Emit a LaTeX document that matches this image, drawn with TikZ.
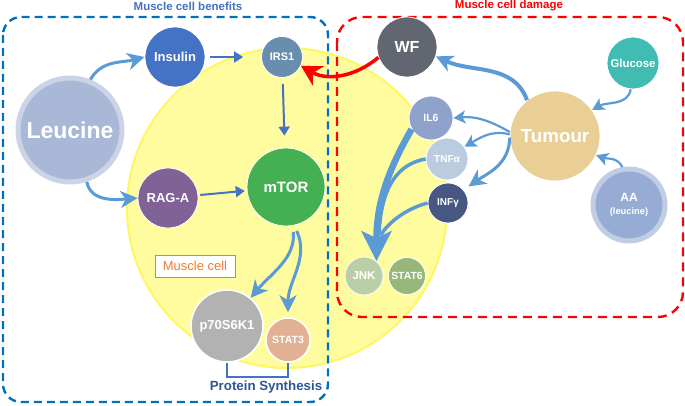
\documentclass[tikz,border=0pt]{standalone}
\usepackage{fontspec}
\setsansfont{Liberation Sans}
\usetikzlibrary{arrows.meta,positioning}

\definecolor{cArrow}{RGB}{91,155,213}
\definecolor{cDark}{RGB}{68,114,196}
\definecolor{cNavy}{RGB}{47,85,151}
\definecolor{cLeu}{RGB}{168,184,214}
\definecolor{cIrs}{RGB}{104,141,175}
\definecolor{cRag}{RGB}{128,98,150}
\definecolor{cMtor}{RGB}{68,176,82}
\definecolor{cPsk}{RGB}{178,178,178}
\definecolor{cStat3}{RGB}{226,176,146}
\definecolor{cWF}{RGB}{98,102,112}
\definecolor{cGlu}{RGB}{64,188,178}
\definecolor{cTum}{RGB}{233,207,150}
\definecolor{cIL}{RGB}{142,162,204}
\definecolor{cTNF}{RGB}{188,204,224}
\definecolor{cINF}{RGB}{72,86,130}
\definecolor{cJNK}{RGB}{186,206,168}
\definecolor{cStat6}{RGB}{150,182,122}
\definecolor{cAA}{RGB}{150,172,212}
\definecolor{cCell}{RGB}{255,252,160}
\definecolor{cCellRim}{RGB}{255,246,100}
\definecolor{cBenefit}{RGB}{0,112,192}
\definecolor{cOrange}{RGB}{237,125,49}

\begin{document}
\begin{tikzpicture}[x=1pt,y=-1pt,
    mol/.style={circle,draw=white,line width=0.8pt,text=white,inner sep=0pt},
    fs/.style={font={\sffamily\bfseries\fontsize{#1}{#1}\selectfont}},
    hazy/.style={draw=#1!60!white,line width=5pt},
    fat/.style={cArrow,line width=3pt,-{Stealth[length=17pt,width=17pt,inset=5pt]}},
    mid/.style={cArrow,line width=2.2pt,-{Stealth[length=12pt,width=13pt,inset=3pt]}},
    slim/.style={cDark,line width=2pt,-{Triangle[length=9pt,width=11pt]}},
    redfat/.style={red,line width=3.5pt,-{Stealth[length=20pt,width=22pt,inset=6pt]}},
    bigfat/.style={cArrow,line width=6.5pt,-{Stealth[length=30pt,width=30pt,inset=7pt]}},
    feed/.style={cArrow,line width=3.5pt,shorten >=26pt}]
  \useasboundingbox (0,0) rectangle (685,406);

  % the muscle cell
  \fill[cCell] (287,208) circle[radius=160];
  \draw[cCellRim,line width=2pt] (287,208) circle[radius=160];

  % the two groups
  \draw[cBenefit,line width=2.4pt,dash pattern=on 8pt off 5pt,rounded corners=18pt] (3,17) rectangle (328,402);
  \draw[red,line width=2.4pt,dash pattern=on 9pt off 6pt,rounded corners=25pt] (337,17) rectangle (683,317);
  \node[fs=11.5,text=cDark] (ben) at (188,6) {Muscle cell benefits};
  \node[fs=11.5,text=red] (dam) at (509,6) {Muscle cell damage};

  % muscle cell benefits
  \node[mol,hazy=cLeu,fill=cLeu,minimum size=104,fs=23] (leu) at (70,130) {Leucine};
  \node[mol,fill=cDark,minimum size=60,fs=13] (ins) at (175,57) {Insulin};
  \node[mol,fill=cIrs,minimum size=41,fs=11] (irs) at (282,57) {IRS1};
  \node[mol,fill=cRag,minimum size=60,fs=13] (rag) at (168,198) {RAG-A};
  \node[mol,fill=cMtor,minimum size=78,fs=15] (mtor) at (286,187) {mTOR};
  \node[mol,fill=cPsk,line width=1.5pt,minimum size=72,fs=13] (psk) at (227,326) {p70S6K1};
  \node[mol,fill=cStat3,line width=1.5pt,minimum size=44,fs=10.5] (st3) at (288,340) {STAT3};
  \node[draw=cOrange,fill=white,line width=0.8pt,text=cOrange,font=\sffamily\fontsize{13}{13}\selectfont,
        minimum width=80,minimum height=22,inner sep=1pt] (cell) at (195,266) {Muscle cell};
  \draw[cDark,line width=1.5pt] (psk.south) -- ++(0,14) -| (st3.south);
  \node[fs=13.3,text=cNavy] (ps) at (266,387) {Protein Synthesis};

  % muscle cell damage
  \node[mol,fill=cWF,minimum size=60,fs=16] (wf) at (407,47) {WF};
  \node[mol,fill=cGlu,minimum size=52,fs=11.4] (glu) at (633,63) {Glucose};
  \node[mol,fill=cTum,minimum size=90,fs=18.8] (tum) at (555,136) {Tumour};
  \node[mol,fill=cIL,minimum size=44,fs=10.4] (il6) at (431,118) {IL6};
  \node[mol,fill=cTNF,minimum size=42,fs=10] (tnf) at (447,159) {TNFα};
  \node[mol,fill=cINF,minimum size=40,fs=10] (inf) at (448,203) {INFγ};
  \node[mol,fill=cJNK,minimum size=38,fs=11.5] (jnk) at (364,276) {JNK};
  \node[mol,fill=cStat6,minimum size=37,fs=10.4] (st6) at (407,276) {STAT6};
  \node[mol,hazy=cAA,fill=cAA,minimum size=72,fs=12,align=center] (aa) at (629,205)
        {AA\\[1pt]{\fontsize{9.3}{9.3}\selectfont(leucine)}};

  % signalling
  \path[fat]
    (leu.68) edge[out=60,in=195] (ins.west)
    (leu.-72) edge[out=-80,in=185] (rag.west)
    (mtor.-80) edge[out=-85,in=50,shorten <=6pt] (psk.50)
    (mtor.-78) edge[out=-65,in=90,shorten <=6pt,shorten >=5pt] (st3.north);
  \path[slim]
    (ins) edge[shorten <=5pt,shorten >=18pt] (irs)
    (irs) edge[shorten <=6pt,shorten >=12pt] (mtor)
    (rag) edge[shorten <=2pt,shorten >=2pt] (mtor);
  \path[redfat] (wf.-160) edge[out=-140,in=-30] (irs.-25);
  \path[fat]
    (tum.128) edge[out=110,in=-25,line width=4pt] (wf.-18)
    (tum.182) edge[out=-90,in=35,shorten >=6pt] (inf.40);
  \path[mid]
    (tum.175) edge[out=150,in=5] (il6.east)
    (tum.178) edge[out=165,in=30] (tnf.35)
    (glu.-95) edge[out=-100,in=30] (tum.35)
    (aa.100) edge[out=115,in=-20] (tum.-25);
  \path[bigfat] (il6.-150) edge[out=-120,in=90] (jnk.50);
  \path[feed]
    (tnf.west) edge[out=190,in=85] (jnk.50)
    (inf.west) edge[out=195,in=80] (jnk.50);
\end{tikzpicture}
\end{document}
